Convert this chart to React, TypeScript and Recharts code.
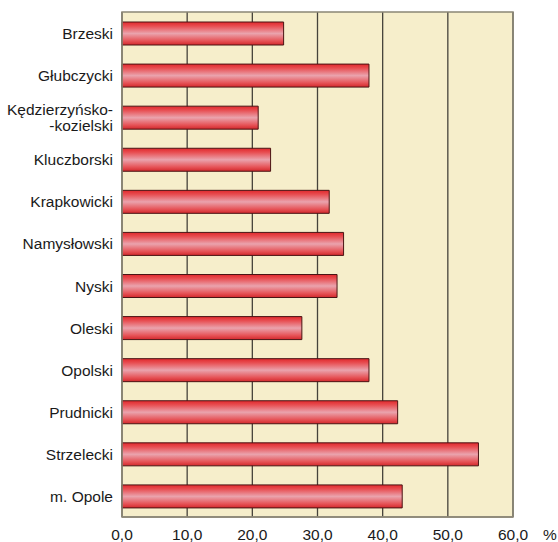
import React from 'react';
import { BarChart, Bar, XAxis, YAxis, CartesianGrid, ReferenceArea } from 'recharts';

const districts = [
    'Brzeski',
    'Głubczycki',
    'Kędzierzyńsko-\n-kozielski',
    'Kluczborski',
    'Krapkowicki',
    'Namysłowski',
    'Nyski',
    'Oleski',
    'Opolski',
    'Prudnicki',
    'Strzelecki',
    'm. Opole',
];
const shares = [24.8, 37.9, 20.9, 22.8, 31.8, 34.0, 33.0, 27.6, 37.9, 42.3, 54.7, 43.0];
const xTicks = [0, 10, 20, 30, 40, 50, 60];
const unit = '%';

const data = districts.map((name, i) => ({ name, value: shares[i] }));

const font = '"Liberation Sans", Arial, sans-serif';

const CategoryTick = (props: any) => {
    const { x, y, payload } = props;
    const lines = String(payload.value).split('\n');
    const lh = 16;
    const startY = y - ((lines.length - 1) * lh) / 2;
    return (
        <text x={x - 1} y={startY} textAnchor="end" fontSize={15.5} fontFamily={font} fill="#1a1a1a" dominantBaseline="central">
            {lines.map((l, i) => (
                <tspan key={i} x={x - 1} y={startY + i * lh}>{l}</tspan>
            ))}
        </text>
    );
};

const ValueTick = (props: any) => {
    const { x, y, payload } = props;
    const v = Number(payload.value);
    const label = v.toFixed(1).replace('.', ',');
    return (
        <g>
            <text x={x} y={y + 9} textAnchor="middle" fontSize={15.5} fontFamily={font} fill="#1a1a1a" dominantBaseline="central">
                {label}
            </text>
            {v === 60 && (
                <text x={x + 30} y={y + 9} textAnchor="start" fontSize={15.5} fontFamily={font} fill="#1a1a1a" dominantBaseline="central">
                    {unit}
                </text>
            )}
        </g>
    );
};

export default function App() {
    return (
        <div style={{ position: 'absolute', left: 0, top: 0, width: 558, height: 542, background: '#fff' }}>
            <BarChart
                width={558}
                height={542}
                data={data}
                layout="vertical"
                margin={{ top: 12, right: 45, left: 0, bottom: 0 }}
                barCategoryGap={0}
            >
                <defs>
                    <linearGradient id="barFill" x1="0" y1="0" x2="0" y2="1">
                        <stop offset="0%" stopColor="#e0282c" />
                        <stop offset="18%" stopColor="#e84e52" />
                        <stop offset="50%" stopColor="#eaa3ad" />
                        <stop offset="82%" stopColor="#e65357" />
                        <stop offset="100%" stopColor="#d2282c" />
                    </linearGradient>
                </defs>
                <CartesianGrid horizontal={false} fill="#f6eecb" stroke="#46433b" strokeWidth={1.3} />
                <XAxis
                    type="number"
                    domain={[0, 60]}
                    ticks={xTicks}
                    height={25}
                    tickLine={false}
                    axisLine={{ stroke: '#8b8676', strokeWidth: 1.5 }}
                    tick={<ValueTick />}
                    interval={0}
                />
                <YAxis
                    type="category"
                    dataKey="name"
                    width={122}
                    tickLine={false}
                    axisLine={{ stroke: '#8b8676', strokeWidth: 1.5 }}
                    tick={<CategoryTick />}
                    interval={0}
                />
                <ReferenceArea x1={0} x2={60} fill="none" stroke="#8b8676" strokeWidth={1.5} />
                <Bar
                    dataKey="value"
                    barSize={23}
                    fill="url(#barFill)"
                    stroke="#4a1414"
                    strokeWidth={1}
                    isAnimationActive={false}
                />
            </BarChart>
        </div>
    );
}
